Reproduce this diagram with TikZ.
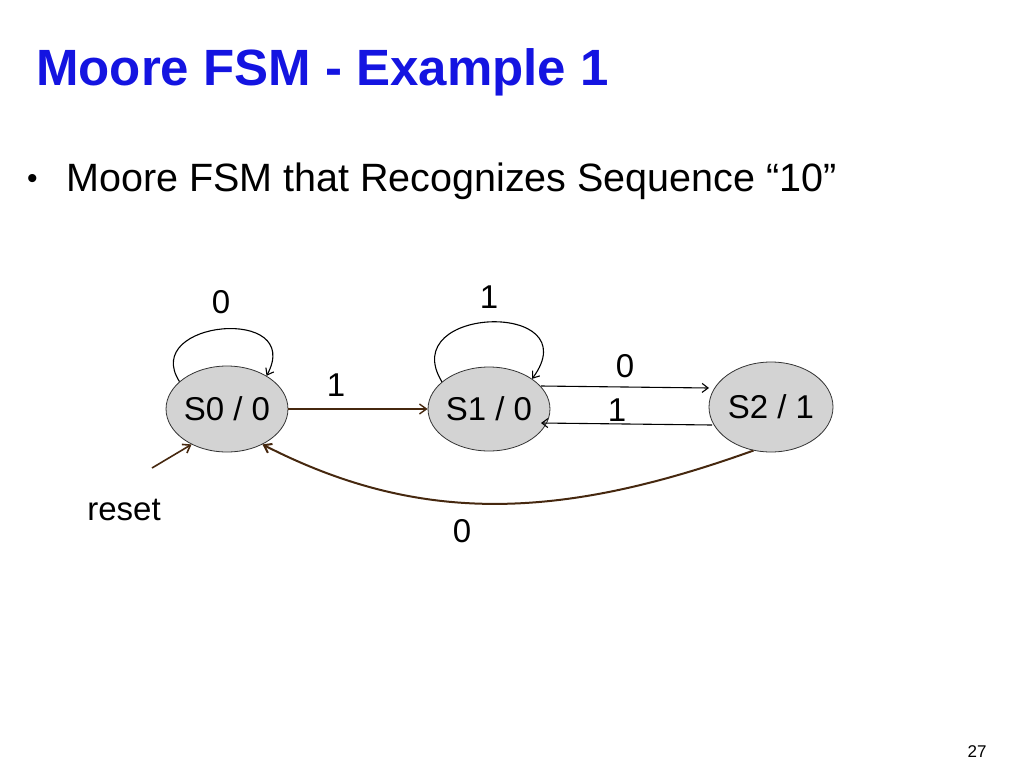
\documentclass[tikz,border=0pt]{standalone}
\usepackage{fontspec}
\setmainfont{Liberation Sans}
\usetikzlibrary{arrows.meta,shapes.geometric}
\definecolor{ttl}{RGB}{20,20,225}
\definecolor{brn}{RGB}{70,40,15}
\definecolor{st}{RGB}{211,211,211}
\begin{document}
\begin{tikzpicture}[x=1pt,y=-1pt,
  state/.style={draw=black!80,fill=st,ellipse,line width=0.8pt,inner sep=0pt,font=\fontsize{33}{33}\selectfont},
  lbl/.style={font=\fontsize{33}{33}\selectfont,inner sep=0pt},
  thin/.style={-{Straight Barb[length=6pt,width=9pt]},line width=1.1pt},
  brw/.style={-{Straight Barb[length=7pt,width=10pt]},draw=brn,line width=2pt}]
\useasboundingbox (0,0) rectangle (1024,768);
\node[anchor=base west,text=ttl,font=\fontsize{51}{51}\selectfont\bfseries,inner sep=0pt] (title) at (36,85) {Moore FSM - Example 1};
\node[anchor=base west,font=\fontsize{30}{30}\selectfont,inner sep=0pt] (bul) at (27,188) {•};
\node[anchor=base west,font=\fontsize{39.5}{40}\selectfont,inner sep=0pt] (sub) at (66,191) {Moore FSM that Recognizes Sequence “10”};
\node[state,minimum width=92pt,minimum height=86pt] (s0) at (227,409) {S0 / 0};
\node[state,minimum width=110pt,minimum height=84pt] (s1) at (489,409) {S1 / 0};
\node[state,minimum width=124pt,minimum height=90pt] (s2) at (771,407) {S2 / 1};
\draw[thin] (s0.150) .. controls (140,320) and (305,305) .. (s0.40);
\node[lbl] (l0) at (221,302) {0};
\draw[thin] (s1.150) .. controls (395,305) and (590,300) .. (s1.35);
\node[lbl] (l1) at (489,297) {1};
\draw[brw,line width=1.4pt] (s0.east) -- (s1.west);
\node[lbl] (l2) at (336,385) {1};
\draw[thin] (541,386) coordinate (a) -- (709,388) coordinate (b);
\node[lbl] (l3) at (625,366) {0};
\draw[thin] (712,425) coordinate (c) -- (541,423) coordinate (d);
\node[lbl] (l4) at (617,410) {1};
\draw[brw] (s2.-112) .. controls (560,520) and (420,525) .. (s0.-45);
\node[lbl] (l5) at (462,531) {0};
\coordinate (r) at (152,468);
\draw[brw,line width=1.6pt] (r) -- (s0.-135);
\node[lbl] (rs) at (124,510) {reset};
\node[font=\fontsize{17}{17}\selectfont,inner sep=0pt] (pg) at (977,752) {27};
\end{tikzpicture}
\end{document}
